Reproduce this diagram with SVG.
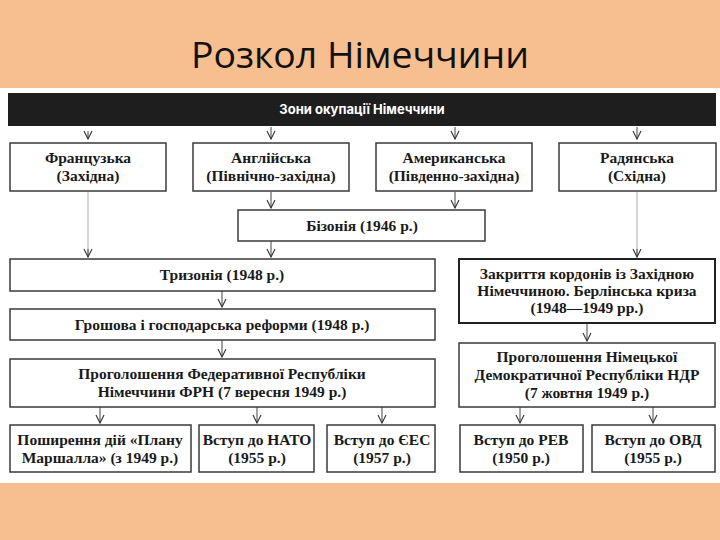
<svg xmlns="http://www.w3.org/2000/svg" width="720" height="540" viewBox="0 0 720 540">
<defs>
<style>
.bg{fill:#F7BE8F}
.box{fill:#fff;stroke:#3a3a3a;stroke-width:1.5}
.boxb{fill:#fff;stroke:#222;stroke-width:2}
.t{font-family:"Liberation Serif","DejaVu Serif",serif;font-weight:bold;font-size:15.5px;fill:#1a1a1a;text-anchor:middle}
.c{fill:none;stroke:#444;stroke-width:1}
.cl{fill:none;stroke:#aaa;stroke-width:1}
</style>
<marker id="ah" viewBox="0 0 10 10" refX="9" refY="5" markerWidth="10" markerHeight="10" markerUnits="userSpaceOnUse" orient="auto">
<polyline points="1,1 9,5 1,9" fill="none" stroke="#333" stroke-width="1.1"/>
</marker>
</defs>
<rect class="bg" x="0" y="0" width="720" height="540"/>
<rect x="0" y="88" width="720" height="395" fill="#fff"/>
<text x="360" y="68" font-family="'Open Sans','Noto Sans',sans-serif" font-size="36" fill="#111" text-anchor="middle" textLength="338" lengthAdjust="spacingAndGlyphs">Розкол Німеччини</text>
<g id="header">
<rect x="8" y="93" width="708" height="33" fill="#1e1e1e"/>
<text x="362" y="114" font-family="Inter,'Noto Sans',sans-serif" font-weight="bold" font-size="13" fill="#fff" text-anchor="middle">Зони окупації Німеччини</text>
</g>
<g id="connectors">
<path class="c" d="M88 131 L88 139" marker-end="url(#ah)"/>
<path class="c" d="M271 127 L271 139" marker-end="url(#ah)"/>
<path class="c" d="M455 127 L455 139" marker-end="url(#ah)"/>
<path class="c" d="M637 127 L637 139" marker-end="url(#ah)"/>
<path class="c" d="M271 192 L271 208" marker-end="url(#ah)"/>
<path class="c" d="M455 192 L455 208" marker-end="url(#ah)"/>
<path class="cl" d="M88 192 L88 257"/>
<path class="c" d="M88 249 L88 257" marker-end="url(#ah)"/>
<path class="c" d="M271 241 L271 257" marker-end="url(#ah)"/>
<path class="cl" d="M637 192 L637 257"/>
<path class="c" d="M637 249 L637 257" marker-end="url(#ah)"/>
<path class="c" d="M222 291 L222 307" marker-end="url(#ah)"/>
<path class="c" d="M222 340 L222 357" marker-end="url(#ah)"/>
<path class="c" d="M587 323 L587 341" marker-end="url(#ah)"/>
<path class="c" d="M100 407 L100 423" marker-end="url(#ah)"/>
<path class="c" d="M257 407 L257 423" marker-end="url(#ah)"/>
<path class="c" d="M382 407 L382 423" marker-end="url(#ah)"/>
<path class="c" d="M520 407 L520 423" marker-end="url(#ah)"/>
<path class="c" d="M653 407 L653 423" marker-end="url(#ah)"/>
</g>
<g id="fr"><rect class="box" x="10" y="143" width="156" height="48"/><text class="t" x="88" y="163">Французька</text><text class="t" x="88" y="181">(Західна)</text></g>
<g id="en"><rect class="box" x="193" y="143" width="156" height="48" stroke="#888"/><text class="t" x="271" y="163">Англійська</text><text class="t" x="271" y="181">(Північно-західна)</text></g>
<g id="us"><rect class="box" x="376" y="143" width="156" height="48"/><text class="t" x="454" y="163">Американська</text><text class="t" x="454" y="181">(Південно-західна)</text></g>
<g id="su"><rect class="box" x="559" y="143" width="157" height="48"/><text class="t" x="637" y="163">Радянська</text><text class="t" x="637" y="181">(Східна)</text></g>
<g id="bizone"><rect class="box" x="238" y="210" width="247" height="31"/><text class="t" x="362" y="231">Бізонія (1946 р.)</text></g>
<g id="trizone"><rect class="box" x="10" y="259" width="425" height="32"/><text class="t" x="222" y="280">Тризонія (1948 р.)</text></g>
<g id="reform"><rect class="box" x="10" y="309" width="425" height="31"/><text class="t" x="222" y="330">Грошова і господарська реформи (1948 р.)</text></g>
<g id="frg"><rect class="box" x="10" y="359" width="425" height="48"/><text class="t" x="222" y="379">Проголошення Федеративної Республіки</text><text class="t" x="222" y="397">Німеччини ФРН (7 вересня 1949 р.)</text></g>
<g id="close"><rect class="boxb" x="459" y="259" width="256" height="64"/><text class="t" x="587" y="279">Закриття кордонів із Західною</text><text class="t" x="587" y="296">Німеччиною. Берлінська криза</text><text class="t" x="587" y="313">(1948—1949 рр.)</text></g>
<g id="gdr"><rect class="box" x="459" y="343" width="256" height="64"/><text class="t" x="587" y="362">Проголошення Німецької</text><text class="t" x="587" y="380">Демократичної Республіки НДР</text><text class="t" x="587" y="398">(7 жовтня 1949 р.)</text></g>
<g id="marshall"><rect class="box" x="10" y="425" width="181" height="47"/><text class="t" x="100" y="445">Поширення дій «Плану</text><text class="t" x="100" y="463">Маршалла» (з 1949 р.)</text></g>
<g id="nato"><rect class="box" x="199" y="425" width="115" height="47"/><text class="t" x="257" y="445">Вступ до НАТО</text><text class="t" x="257" y="463">(1955 р.)</text></g>
<g id="eec"><rect class="box" x="327" y="425" width="108" height="47"/><text class="t" x="382" y="445">Вступ до ЄЕС</text><text class="t" x="382" y="463">(1957 р.)</text></g>
<g id="comecon"><rect class="box" x="460" y="425" width="123" height="47"/><text class="t" x="521" y="445">Вступ до РЕВ</text><text class="t" x="521" y="463">(1950 р.)</text></g>
<g id="warsaw"><rect class="box" x="592" y="425" width="123" height="47"/><text class="t" x="653" y="445">Вступ до ОВД</text><text class="t" x="653" y="463">(1955 р.)</text></g>
</svg>
